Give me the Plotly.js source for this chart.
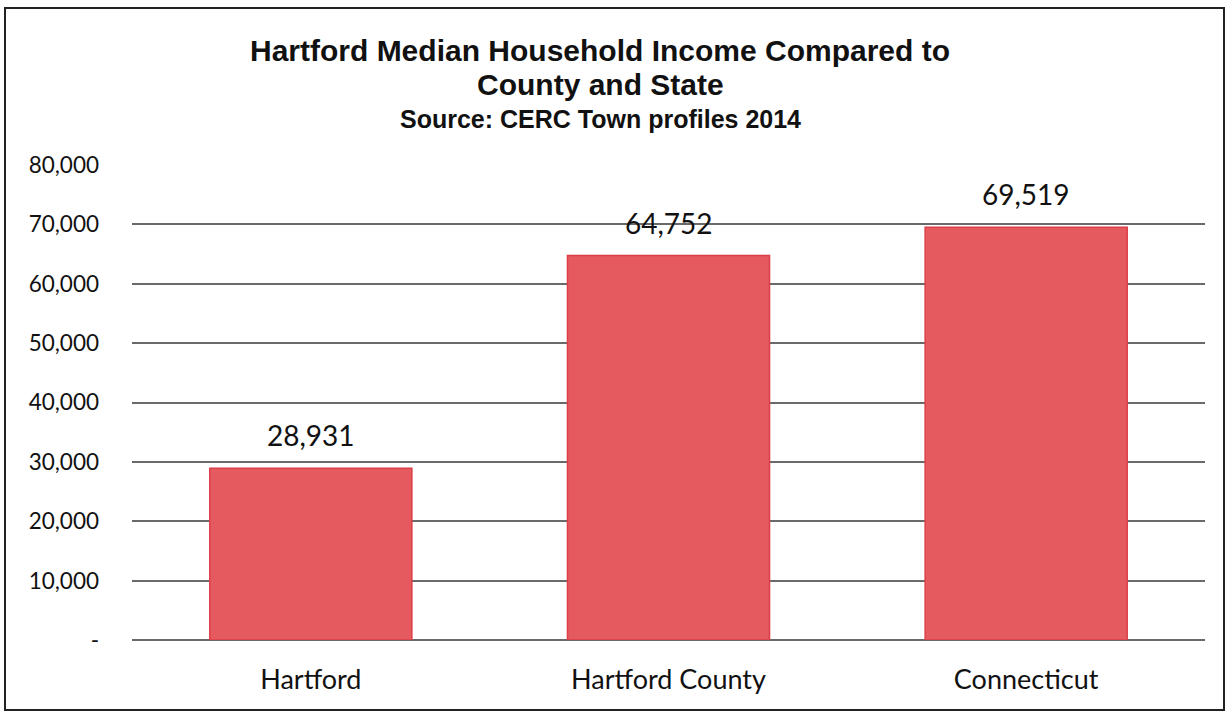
<!DOCTYPE html>
<html>
<head>
<meta charset="utf-8">
<script src="https://cdn.plot.ly/plotly-3.0.1.min.js"></script>
<style>
  html, body { margin: 0; padding: 0; background: #fff; }
  #chart { width: 1225px; height: 713px; }
</style>
</head>
<body>
<div id="chart"></div>
<script>
const categories = ["Hartford", "Hartford County", "Connecticut"];
const incomes = [28931, 64752, 69519];
const incomeLabels = ["28,931", "64,752", "69,519"];
const tickValues = [0, 10000, 20000, 30000, 40000, 50000, 60000, 70000, 80000];
const tickLabels = ["-", "10,000", "20,000", "30,000", "40,000", "50,000", "60,000", "70,000", "80,000"];

const bodyFont = "Lato, 'Open Sans', sans-serif";
const titleFont = "'Liberation Sans', Arial, sans-serif";

const trace = {
  type: "bar",
  x: categories,
  y: incomes,
  marker: { color: "#e45a5f", line: { color: "#dc3f48", width: 1.5 } },
  hoverinfo: "x+y"
};

const valueAnnotations = categories.map((c, i) => ({
  x: c, y: incomes[i], xref: "x", yref: "y",
  text: incomeLabels[i],
  showarrow: false,
  xanchor: "center", yanchor: "bottom",
  yshift: 14,
  font: { family: bodyFont, size: 28, color: "#111" }
}));

const titleX = (600 - 132) / 1073;

const layout = {
  width: 1225,
  height: 713,
  margin: { l: 132, r: 20, t: 165, b: 73 },
  paper_bgcolor: "#fff",
  plot_bgcolor: "#fff",
  bargap: 0.435,
  showlegend: false,
  title: {
    text: "<b>Hartford Median Household Income Compared to</b>",
    font: { family: titleFont, size: 30, color: "#111" },
    xref: "container", x: 600 / 1225, xanchor: "center",
    yref: "container", y: 1 - 50 / 713, yanchor: "middle"
  },
  annotations: [{
    text: "<b>County and State</b>",
    xref: "paper", yref: "paper",
    x: titleX, y: (640 - 84) / 475,
    xanchor: "center", yanchor: "middle",
    showarrow: false,
    font: { family: titleFont, size: 30, color: "#111" }
  }, {
    text: "<b>Source: CERC Town profiles 2014</b>",
    xref: "paper", yref: "paper",
    x: titleX, y: (640 - 119) / 475,
    xanchor: "center", yanchor: "middle",
    showarrow: false,
    font: { family: titleFont, size: 25, color: "#111" }
  }].concat(valueAnnotations),
  xaxis: {
    type: "category",
    tickfont: { family: bodyFont, size: 27, color: "#111" },
    showline: false,
    ticks: "",
    ticklabelstandoff: 21,
    automargin: false
  },
  yaxis: {
    range: [0, 80000],
    tickvals: tickValues,
    ticktext: tickLabels,
    tickfont: { family: bodyFont, size: 22.5, color: "#111" },
    showgrid: true,
    gridcolor: "#6a6a6a",
    gridwidth: 2,
    zeroline: true,
    zerolinecolor: "#6a6a6a",
    zerolinewidth: 2,
    ticks: "",
    ticklabelstandoff: 32,
    automargin: false
  },
  shapes: [{
    type: "rect", xref: "paper", yref: "paper",
    x0: (5 - 132) / 1073, x1: (1224 - 132) / 1073,
    y0: (640 - 710) / 475, y1: (640 - 8) / 475,
    line: { color: "#222", width: 2 },
    fillcolor: "rgba(0,0,0,0)",
    layer: "below"
  }]
};

Plotly.newPlot("chart", [trace], layout, { displayModeBar: false, staticPlot: true });
</script>
</body>
</html>
